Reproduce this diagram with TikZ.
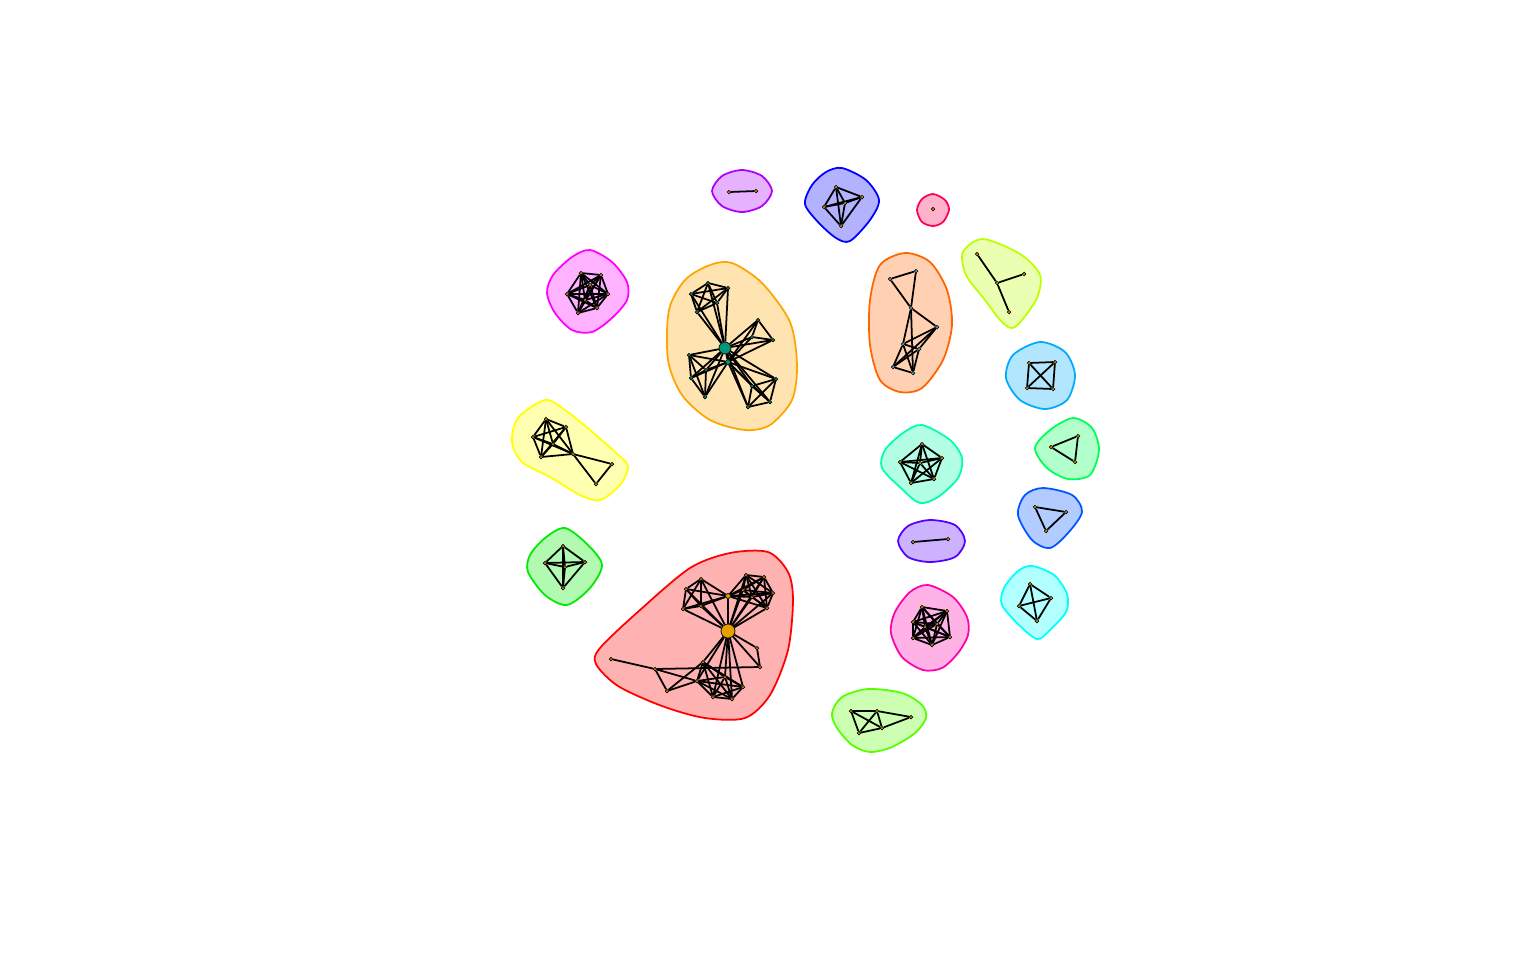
\documentclass[tikz,border=0pt]{standalone}
\usepackage{tikz}

% hull borders (rainbow), fills are mixed with white
\definecolor{hOrange}{RGB}{255,165,0}
\definecolor{hRed}{RGB}{255,0,0}
\definecolor{hPeach}{RGB}{255,100,0}
\definecolor{hYellow}{RGB}{255,255,0}
\definecolor{hMagenta}{RGB}{255,0,255}
\definecolor{hGreen}{RGB}{0,235,0}
\definecolor{hPurple}{RGB}{170,0,255}
\definecolor{hBlue}{RGB}{0,0,255}
\definecolor{hRose}{RGB}{255,0,85}
\definecolor{hLime}{RGB}{190,255,0}
\definecolor{hSky}{RGB}{0,170,255}
\definecolor{hMint}{RGB}{0,255,85}
\definecolor{hAzure}{RGB}{0,85,255}
\definecolor{hCyan}{RGB}{0,255,255}
\definecolor{hTeal}{RGB}{0,255,170}
\definecolor{hViolet}{RGB}{85,0,255}
\definecolor{hPink}{RGB}{255,0,170}
\definecolor{hGrass}{RGB}{85,255,0}
% vertex fills
\definecolor{vTeal}{RGB}{0,150,120}
\definecolor{vGold}{RGB}{230,160,0}
\definecolor{vBlue}{RGB}{90,180,230}

\pgfdeclarelayer{hulls}
\pgfdeclarelayer{edges}
\pgfsetlayers{hulls,edges,main}

\tikzset{
  hull/.style={line width=0.5pt, draw=#1, fill=#1!30},
  edge/.style={line width=0.5pt, black},
  vtx/.style={circle, draw=black, line width=0.2pt, inner sep=0pt, minimum size=0.035cm, fill=vGold},
}

\newcommand{\drawclique}[2]{%
  \foreach \i in {1,...,#2}{\foreach \j in {1,...,#2}{%
    \ifnum\i<\j\relax\draw[edge] (#1\i) -- (#1\j);\fi}}}
\newcommand{\hubfan}[3]{\foreach \i in {1,...,#3}{\draw[edge] (#1) -- (#2\i);}}

\begin{document}
\begin{tikzpicture}[x=0.01cm, y=-0.01cm]
  \useasboundingbox (0,0) rectangle (1536,960);

  % ---- vertices
  \node[vtx, fill=vTeal, minimum size=0.12cm] (oh) at (725,348) {};
  \node[vtx, fill=vTeal, minimum size=0.05cm] (os) at (728,362) {};
  \foreach \n/\x/\y in {ot1/708/283, ot2/728/288, ot3/691/294, ot4/717/303, ot5/697/312,
                       or1/758/320, or2/773/340, or3/752/337,
                       ol1/689/355, ol2/691/378, ol3/706/370, ol4/705/397,
                       ob1/776/379, ob2/748/407, ob3/752/386, ob4/770/402}
    \node[vtx, fill=vTeal] (\n) at (\x,\y) {};

  \node[vtx, minimum size=0.14cm] (rh) at (728,631) {};
  \node[vtx, minimum size=0.05cm] (rm) at (728,596) {};
  \foreach \n/\x/\y in {ra1/701/579, ra2/686/589, ra3/683/609, ra4/701/606,
                       rc1/746/575, rc2/764/577, rc3/773/593, rc4/767/608, rc5/752/597, rc6/743/590,
                       rb1/703/662, rb2/697/681, rb3/713/697, rb4/732/699, rb5/743/687, rb6/725/677,
                       rx1/757/648, rx2/760/667,
                       rl1/611/659, rl2/655/669, rl3/667/691}
    \node[vtx] (\n) at (\x,\y) {};

  \foreach \n/\x/\y in {p1/890/279, p2/916/271, p3/911/308, p4/937/327,
                       p5/903/344, p6/919/349, p7/893/367, p8/913/373}
    \node[vtx, fill=vBlue] (\n) at (\x,\y) {};

  \foreach \n/\x/\y in {y1/546/419, y2/566/427, y3/533/437, y4/553/444,
                       y5/541/457, y6/573/454, y7/612/464, y8/596/484,
                       m1/581/273, m2/601/275, m3/567/294, m4/608/294,
                       m5/578/313, m6/597/308, m7/590/285, m8/585/300,
                       g1/563/546, g2/545/563, g3/585/562, g4/563/588, g5/565/567,
                       u1/729/192, u2/756/191,
                       b1/836/187, b2/862/197, b3/824/207, b4/841/226, b5/845/203,
                       t1/933/209,
                       l1/977/254, l2/997/283, l3/1024/274, l4/1009/312,
                       k1/1029/363, k2/1055/362, k3/1027/388, k4/1053/389,
                       e1/1078/436, e2/1051/447, e3/1075/462,
                       f1/1035/507, f2/1066/512, f3/1046/531,
                       c1/1030/584, c2/1051/598, c3/1019/606, c4/1037/621,
                       a1/922/444, a2/942/458, a3/900/462, a4/934/479, a5/911/483, a6/920/463,
                       v1/913/542, v2/948/539,
                       n1/922/607, n2/947/611, n3/913/622, n4/937/624,
                       n5/950/637, n6/913/638, n7/932/645, n8/925/627,
                       w1/851/711, w2/877/711, w3/911/717, w4/859/733, w5/882/728}
    \node[vtx] (\n) at (\x,\y) {};

  % ---- community hulls
  \begin{pgfonlayer}{hulls}
    \draw[hull=hOrange] plot[smooth cycle] coordinates {(732,263) (762,283) (790,322) (797,365) (792,400) (770,425) (745,430) (710,420) (682,395) (668,360) (669,310) (685,280) (710,265)};
    \draw[hull=hRed] plot[smooth cycle] coordinates {(600,648) (640,610) (690,568) (730,553) (768,552) (788,572) (793,600) (788,650) (770,695) (745,718) (705,718) (662,706) (618,686) (596,664)};
    \draw[hull=hPeach] plot[smooth cycle] coordinates {(905,253) (930,262) (947,290) (952,325) (943,360) (922,388) (900,392) (880,380) (870,345) (870,300) (880,265)};
    \draw[hull=hYellow] plot[smooth cycle] coordinates {(545,400) (565,410) (590,430) (615,452) (628,466) (620,485) (600,500) (580,495) (550,477) (522,462) (512,442) (518,418)};
    \draw[hull=hMagenta] plot[smooth cycle] coordinates {(590,250) (612,262) (627,282) (627,300) (612,318) (592,332) (572,330) (555,313) (547,293) (553,275) (572,257)};
    \draw[hull=hGreen] plot[smooth cycle] coordinates {(565,528) (588,545) (602,565) (590,588) (567,605) (545,595) (528,572) (530,555) (545,538)};
    \draw[hull=hPurple] plot[smooth cycle] coordinates {(742,170) (762,176) (772,191) (762,206) (742,212) (722,206) (712,191) (722,176)};
    \draw[hull=hBlue] plot[smooth cycle] coordinates {(842,168) (866,180) (879,200) (870,220) (850,241) (836,238) (818,222) (805,204) (812,185) (826,172)};
    \draw[hull=hRose] plot[smooth cycle] coordinates {(933,194) (945,200) (949,210) (943,222) (933,226) (922,222) (917,210) (922,199)};
    \draw[hull=hLime] plot[smooth cycle] coordinates {(983,239) (1020,254) (1040,275) (1036,300) (1015,327) (1002,322) (985,300) (966,275) (963,252)};
    \draw[hull=hSky] plot[smooth cycle] coordinates {(1040,342) (1065,352) (1075,375) (1067,400) (1045,409) (1020,400) (1006,378) (1013,355)};
    \draw[hull=hMint] plot[smooth cycle] coordinates {(1073,418) (1092,428) (1099,450) (1090,475) (1068,479) (1047,468) (1035,448) (1050,430)};
    \draw[hull=hAzure] plot[smooth cycle] coordinates {(1043,488) (1072,495) (1082,512) (1068,533) (1050,548) (1032,540) (1018,515) (1025,495)};
    \draw[hull=hCyan] plot[smooth cycle] coordinates {(1032,566) (1054,575) (1067,594) (1066,612) (1048,632) (1037,639) (1020,626) (1002,605) (1004,588) (1018,571)};
    \draw[hull=hTeal] plot[smooth cycle] coordinates {(922,425) (950,440) (962,458) (958,478) (938,497) (920,503) (903,490) (882,468) (885,450) (903,433)};
    \draw[hull=hViolet] plot[smooth cycle] coordinates {(930,520) (955,525) (965,541) (955,557) (930,562) (908,557) (898,541) (908,526)};
    \draw[hull=hPink] plot[smooth cycle] coordinates {(928,585) (953,597) (967,617) (968,635) (958,653) (942,668) (923,670) (902,657) (891,633) (895,612) (910,592)};
    \draw[hull=hGrass] plot[smooth cycle] coordinates {(868,689) (902,693) (922,705) (926,718) (915,733) (892,747) (870,752) (852,745) (837,728) (832,713) (842,697)};
  \end{pgfonlayer}

  % ---- edges
  \begin{pgfonlayer}{edges}
    % orange community
    \drawclique{ot}{5} \drawclique{or}{3} \drawclique{ol}{4} \drawclique{ob}{4}
    \hubfan{oh}{ot}{5} \hubfan{oh}{or}{3} \hubfan{oh}{ol}{4} \hubfan{oh}{ob}{4}
    \hubfan{os}{or}{3} \hubfan{os}{ol}{4} \hubfan{os}{ob}{4}
    \draw[edge] (oh) -- (os);
    % red community
    \drawclique{ra}{4} \drawclique{rc}{6} \drawclique{rb}{6}
    \hubfan{rh}{ra}{4} \hubfan{rh}{rc}{6} \hubfan{rh}{rb}{6} \hubfan{rh}{rx}{2}
    \hubfan{rm}{ra}{4} \hubfan{rm}{rc}{6}
    \draw[edge] (rh) -- (rm);
    \foreach \s/\t in {rx1/rx2, rl1/rl2, rl2/rx2, rl2/rl3, rl2/rb2, rl3/rb1, rl3/rb2}
      \draw[edge] (\s) -- (\t);
    % the rest
    \foreach \s/\t in {p1/p2, p1/p3, p2/p3, p3/p4, p3/p5, p3/p8, p4/p5, p4/p6, p4/p7,
                       p5/p6, p5/p7, p5/p8, p6/p7, p6/p8, p7/p8,
                       y6/y7, y6/y8, y7/y8, u1/u2, l1/l2, l2/l3, l2/l4, v1/v2,
                       w1/w2, w2/w3, w1/w4, w1/w5, w2/w4, w2/w5, w4/w5, w3/w5}
      \draw[edge] (\s) -- (\t);
    \drawclique{y}{6} \drawclique{m}{8} \drawclique{g}{5} \drawclique{b}{5}
    \drawclique{k}{4} \drawclique{e}{3} \drawclique{f}{3} \drawclique{c}{4}
    \drawclique{a}{6} \drawclique{n}{8}
  \end{pgfonlayer}
\end{tikzpicture}
\end{document}
